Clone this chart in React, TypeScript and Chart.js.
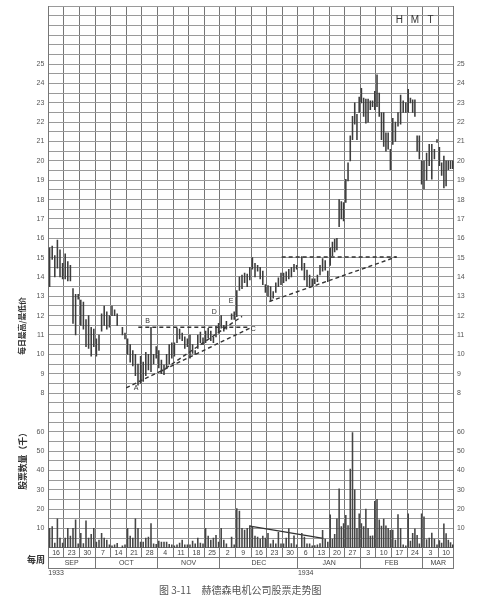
import React, { useEffect, useRef } from 'react';
import { Chart, registerables } from 'chart.js';

Chart.register(...registerables);

// ---------- axis / label data ----------
const weekLabels = ['16', '23', '30', '7', '14', '21', '28', '4', '11', '18', '25', '2', '9', '16', '23', '30', '6', '13', '20', '27', '3', '10', '17', '24', '3', '10'];
const monthNames = ['SEP', 'OCT', 'NOV', 'DEC', 'JAN', 'FEB', 'MAR'];
const monthWeekCounts = [3, 4, 4, 5, 4, 4, 2];
const yearNames = ['1933', '1934'];
const yearStartWeeks = [0, 16];
const priceTickLabels = [8, 9, 10, 11, 12, 13, 14, 15, 16, 17, 18, 19, 20, 21, 22, 23, 24, 25];
const volumeTickLabels = [10, 20, 30, 40, 50, 60];

// ---------- daily highs / lows per week (null = no trading) ----------
const priceLows: (number | null)[][] = [
  [13.5, 14.9, 14.0, 14.45, 14.0, 13.9],
  [13.9, 13.8, 13.8, 11.6, 11.0, 12.85],
  [11.5, 11.3, 10.4, 10.3, 9.9, 10.4],
  [9.9, 10.2, 11.2, 11.5, 11.3, 11.4],
  [12.0, 12.0, 11.5, null, 11.0, 10.8],
  [10.0, 9.6, 9.4, 8.9, 8.4, 8.5],
  [8.6, 8.9, 9.2, 9.1, 9.5, 9.8],
  [9.3, 9.0, 8.95, 9.3, 9.5, 9.8],
  [9.9, 10.6, 10.8, 10.7, 10.3, 10.4],
  [9.8, 10.05, 10.0, 10.3, 10.6, 10.5],
  [10.6, 10.85, 10.7, 10.6, 10.9, 11.1],
  [11.35, 11.2, 11.3, null, 11.8, 11.8],
  [11.95, 13.3, 13.4, 13.7, 13.5, 13.85],
  [14.4, 14.0, 14.3, 13.9, 13.6, 13.2],
  [13.0, 12.75, 12.9, 13.2, 13.5, 13.6],
  [13.7, 13.8, 13.9, 14.0, 14.27, 14.4],
  [null, 14.35, 13.85, 13.5, 13.45, 13.55],
  [13.65, 13.75, 14.1, 14.3, 14.35, 13.75],
  [14.6, 15.1, 15.3, 15.4, 16.6, 17.0, 16.9],
  [17.85, 18.97, 20.0, 21.1, 21.9, 21.1, 22.5],
  [23.0, 22.3, 21.95, 22.0, 22.65, 22.8, 22.65],
  [22.8, 22.3, 21.1, 20.75, 20.5, 20.6, 19.55],
  [20.85, 21.0, 21.8, 21.9, 22.5, 22.5],
  [22.5, 23.0, 22.5, 22.3, 20.5, 20.1, 18.8],
  [18.55, 19.0, 19.75, 19.05, 20.1, 20.95],
  [19.75, 19.25, 18.6, 18.7, 19.55, 19.6, 19.6],
];
const priceHighs: (number | null)[][] = [
  [15.5, 15.6, 15.1, 15.9, 15.4, 14.7],
  [15.2, 14.8, 14.6, 13.4, 13.1, 13.1],
  [12.8, 12.7, 11.8, 12.0, 11.4, 11.3],
  [10.8, 11.0, 12.1, 12.5, 12.2, 12.0],
  [12.5, 12.3, 12.1, null, 11.4, 11.1],
  [10.8, 10.5, 10.2, 10.0, 9.5, 9.9],
  [9.6, 10.1, 10.0, 11.4, 10.0, 10.4],
  [10.2, 9.7, 9.45, 10.0, 10.5, 10.6],
  [10.6, 11.35, 11.3, 11.1, 10.9, 10.8],
  [11.0, 10.5, 10.2, 11.0, 11.15, 10.85],
  [11.2, 11.35, 11.2, 10.9, 11.45, 11.6],
  [12.0, 11.5, 11.7, null, 12.1, 12.2],
  [13.3, 14.0, 14.1, 14.2, 14.15, 14.5],
  [15.0, 14.7, 14.6, 14.5, 14.3, 13.6],
  [13.55, 13.5, 13.25, 13.7, 13.95, 14.2],
  [14.2, 14.27, 14.4, 14.5, 14.65, 14.6],
  [null, 15.05, 14.7, 14.35, 14.1, 13.9],
  [13.9, 14.1, 14.6, 14.95, 14.85, 14.3],
  [15.5, 15.8, 15.95, 16.0, 18.0, 17.9, 17.85],
  [19.05, 19.9, 21.3, 22.3, 23.0, 22.4, 23.3],
  [23.75, 23.25, 23.2, 23.2, 23.1, 23.1, 23.6],
  [24.45, 23.5, 22.5, 22.5, 21.45, 21.45, 20.6],
  [22.2, 22.0, 22.5, 23.4, 23.1, 23.0],
  [23.7, 23.25, 23.15, 23.15, 21.3, 21.3, 20.0],
  [20.0, 20.4, 20.85, 20.85, 20.6, 21.1],
  [20.7, 19.9, 20.25, 20.0, 20.0, 20.0, 20.0],
];
// daily volume, thousands of shares
const volumes: (number | null)[][] = [
  [10, 11, 2.5, 15, 5, 2.5],
  [5, 10, 6, 10, 14.5, 2],
  [7.5, 2.2, 14, 5, 7, 10],
  [3, 4, 7.5, 5, 4, 1.5],
  [1, 1.5, 2.3, null, 1, 1.5],
  [10, 6, 5, 15, 10, 3],
  [3, 5, 5.5, 12.5, 2, 1.8],
  [3.5, 3, 3, 3, 1.8, 1.5],
  [1, 1.5, 2.5, 4, 1.5, 1.5],
  [1.5, 3.5, 2, 5, 2.5, 2],
  [10, 6, 4, 5, 6.5, 3],
  [10, 4, 2, null, 5.5, 1.5],
  [20.3, 19, 10, 9.2, 10, 11.5],
  [11, 6, 5.5, 4.5, 6, 5],
  [7.5, 2, 4, 2, 8, 2],
  [2, 5, 9.9, 2.2, 6.2, 1.5],
  [null, 7.5, 5.5, 2, 2, 1],
  [1.2, 1.5, 2.2, 9, 4.5, 3],
  [17, 4.5, 7, 15, 30.5, 11, 12.5],
  [16.8, 11.5, 40.7, 59.6, 30, 10, 17.5],
  [12.5, 11, 20, 10, 6, 6.2, 24],
  [25, 14.5, 11.2, 14.8, 11.4, 10, 9],
  [9.2, 4, 17.2, 10, 1.5, 1],
  [17.6, 3.5, 7.5, 9.8, 6.5, 2, 17.5],
  [16, 4.3, 5, 7.6, 4.5, 1.5],
  [3.7, 2.5, 12.4, 7.3, 4, 2.7, 1.5],
];

// ---------- trend lines (x = week position, y = price / volume) ----------
const lineB = [{ x: 5.77, y: 11.4 }, { x: 12.93, y: 11.4 }];
const lineAC = [{ x: 4.99, y: 8.27 }, { x: 12.93, y: 11.36 }];
const lineUpper = [{ x: 7.16, y: 9.08 }, { x: 12.42, y: 11.96 }];
const lineJanTop = [{ x: 14.96, y: 15.03 }, { x: 22.33, y: 15.03 }];
const lineJanRise = [{ x: 14.17, y: 12.73 }, { x: 22.33, y: 15.04 }];
const lineVolume = [{ x: 12.93, y: 11.2 }, { x: 17.63, y: 4.9 }];

const markLetters = ['A', 'B', 'C', 'D', 'E'];
const markX = [5.62, 6.37, 13.14, 10.64, 11.71];
const markY = [8.24, 11.73, 11.3, 12.2, 12.76];
const titleLetters = ['H', 'M', 'T'];
const titleX = [22.5, 23.5, 24.5];
const titleY = [27.25, 27.25, 27.25];

// ---------- build library data ----------
const priceBars: { x: number; y: [number, number] }[] = [];
const volumeBars: { x: number; y: number }[] = [];
priceLows.forEach((week, w) => {
  const n = week.length;
  week.forEach((lo, d) => {
    const x = w + (d + 0.5) / n;
    const hi = priceHighs[w][d];
    if (lo != null && hi != null) priceBars.push({ x, y: [lo, hi] });
    const v = volumes[w][d];
    if (v != null) volumeBars.push({ x, y: v });
  });
});

const tickText = (value: number) => {
  if (priceTickLabels.includes(value)) return String(value);
  const vol = Math.round(value * 10);
  if (Math.abs(value * 10 - vol) < 1e-6 && volumeTickLabels.includes(vol)) return String(vol);
  return '';
};

const align = (p: number) => Math.round(p - 0.5) + 0.5;

const framePlugin = {
  id: 'frame',
  afterDraw(chart: any) {
    const { ctx, chartArea: ca, scales } = chart;
    const xs = scales.x;
    const ys = scales.y;
    const rowTop = ca.bottom;
    const rowMid = ca.bottom + 9.5;
    const rowBot = ca.bottom + 20.5;
    ctx.save();
    ctx.strokeStyle = '#777';
    ctx.lineWidth = 1;
    ctx.beginPath();
    ctx.moveTo(ca.left, align(rowMid));
    ctx.lineTo(ca.right, align(rowMid));
    ctx.moveTo(ca.left, align(rowBot));
    ctx.lineTo(ca.right, align(rowBot));
    for (let w = 0; w <= weekLabels.length; w++) {
      const px = align(xs.getPixelForValue(w));
      ctx.moveTo(px, rowTop);
      ctx.lineTo(px, align(rowMid));
    }
    let acc = 0;
    const bounds = [0];
    monthWeekCounts.forEach((c) => { acc += c; bounds.push(acc); });
    bounds.forEach((b) => {
      const px = align(xs.getPixelForValue(b));
      ctx.moveTo(px, align(rowMid));
      ctx.lineTo(px, align(rowBot));
    });
    ctx.stroke();

    ctx.fillStyle = '#444';
    ctx.textAlign = 'center';
    ctx.textBaseline = 'middle';
    ctx.font = '7px "Liberation Sans", Arial, sans-serif';
    weekLabels.forEach((t, w) => {
      ctx.fillText(t, xs.getPixelForValue(w + 0.5), rowTop + 5.2);
    });
    monthNames.forEach((m, i) => {
      const c = (bounds[i] + bounds[i + 1]) / 2;
      ctx.fillText(m, xs.getPixelForValue(c), rowMid + 6);
    });
    ctx.textAlign = 'left';
    yearNames.forEach((yname, i) => {
      ctx.fillText(yname, xs.getPixelForValue(yearStartWeeks[i]), rowBot + 5);
    });

    // annotation letters
    ctx.textAlign = 'center';
    ctx.font = '7px "Liberation Sans", Arial, sans-serif';
    ctx.fillStyle = '#333';
    markLetters.forEach((l, i) => {
      ctx.fillText(l, xs.getPixelForValue(markX[i]), ys.getPixelForValue(markY[i]));
    });
    ctx.font = '10px "Liberation Sans", Arial, sans-serif';
    titleLetters.forEach((l, i) => {
      ctx.fillText(l, xs.getPixelForValue(titleX[i]), ys.getPixelForValue(titleY[i]));
    });

    // axis titles
    ctx.fillStyle = '#333';
    ctx.font = 'bold 7.8px "Noto Sans CJK SC", sans-serif';
    ctx.save();
    ctx.translate(22.5, 326);
    ctx.rotate(-Math.PI / 2);
    ctx.fillText('每日最高/最低价', 0, 0);
    ctx.restore();
    ctx.save();
    ctx.font = 'bold 8.8px "Noto Sans CJK SC", sans-serif';
    ctx.translate(22.5, 459);
    ctx.rotate(-Math.PI / 2);
    ctx.fillText('股票数量（千）', 0, 0);
    ctx.restore();

    ctx.font = 'bold 9px "Noto Sans CJK SC", sans-serif';
    ctx.textAlign = 'right';
    ctx.fillText('每周', 45, rowMid + 2);

    // caption
    ctx.fillStyle = '#555';
    ctx.textAlign = 'left';
    ctx.font = '10px "Noto Sans CJK SC", sans-serif';
    ctx.fillText('图 3-11', 159, 590);
    ctx.fillText('赫德森电机公司股票走势图', 201.5, 590);
    ctx.restore();
  },
};

const dashed = (data: { x: number; y: number }[], axis = 'y', dash = [4, 3]) => ({
  type: 'line' as const,
  data,
  yAxisID: axis,
  borderColor: '#333',
  borderWidth: 1.4,
  borderDash: dash,
  pointRadius: 0,
  fill: false,
  tension: 0,
});

export default function App() {
  const ref = useRef<HTMLCanvasElement | null>(null);
  useEffect(() => {
    if (!ref.current) return;
    const chart = new Chart(ref.current, {
      type: 'bar',
      data: {
        datasets: [
          { type: 'bar', data: priceBars as any, yAxisID: 'y', backgroundColor: '#3c3c3c', barThickness: 0.9, grouped: false } as any,
          { type: 'bar', data: volumeBars as any, yAxisID: 'yv', backgroundColor: '#454545', barThickness: 0.9, grouped: false } as any,
          dashed(lineB),
          dashed(lineAC),
          dashed(lineUpper),
          dashed(lineJanTop),
          dashed(lineJanRise),
          dashed(lineVolume, 'yv', []),
        ],
      },
      options: {
        animation: false,
        responsive: true,
        maintainAspectRatio: false,
        layout: { padding: { top: 2.6, bottom: 57.2, left: 0, right: 0 } },
        plugins: { legend: { display: false }, tooltip: { enabled: false } },
        scales: {
          x: {
            type: 'linear', min: 0, max: 26, offset: false,
            ticks: { display: false, stepSize: 1 },
            grid: { color: '#767676', drawTicks: false, offset: false },
            border: { color: '#767676' },
          },
          y: {
            type: 'linear', position: 'left', min: 0, max: 28,
            ticks: { stepSize: 0.5, autoSkip: false, callback: (v: any) => tickText(Number(v)), padding: 4, color: '#555', font: { size: 7, family: '"Liberation Sans", Arial, sans-serif', lineHeight: 0.6 } },
            grid: { color: '#9a9a9a', drawTicks: false },
            border: { color: '#767676' },
            afterFit: (s: any) => { s.width = 48.3; },
          },
          y2: {
            type: 'linear', position: 'right', min: 0, max: 28,
            ticks: { stepSize: 0.5, autoSkip: false, callback: (v: any) => tickText(Number(v)), padding: 3, color: '#555', font: { size: 7, family: '"Liberation Sans", Arial, sans-serif', lineHeight: 0.6 } },
            grid: { drawOnChartArea: false, drawTicks: false },
            border: { color: '#767676' },
            afterFit: (s: any) => { s.width = 35.1; },
          },
          yv: { type: 'linear', display: false, min: 0, max: 280 },
        },
      } as any,
      plugins: [framePlugin],
    });
    return () => chart.destroy();
  }, []);
  return (
    <div style={{ position: 'absolute', left: 0, top: 0, width: 489, height: 605, background: '#fff' }}>
      <canvas ref={ref} style={{ display: 'block' }} />
    </div>
  );
}
